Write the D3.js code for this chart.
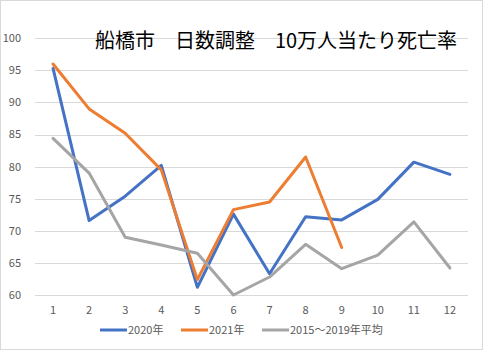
<!DOCTYPE html>
<html><head><meta charset="utf-8">
<script src="https://cdn.jsdelivr.net/npm/d3@7"></script>
<style>
html,body{margin:0;padding:0;background:#fff;}
svg{display:block;}
</style></head>
<body>
<svg id="chart" width="483" height="350"></svg>
<script>
const months = [1,2,3,4,5,6,7,8,9,10,11,12];
const s2020 = [95.3,71.6,75.4,80.2,61.2,72.6,63.3,72.2,71.7,74.9,80.7,78.8];
const s2021 = [96.0,89.0,85.2,79.5,62.4,73.3,74.5,81.5,67.4];
const sAvg  = [84.4,79.0,69.0,67.8,66.5,60.0,62.8,67.9,64.1,66.2,71.4,64.2];
const yTicks = [60,65,70,75,80,85,90,95,100];
const seriesNames = ["2020年","2021年","2015～2019年平均"];
const seriesColors = ["#4472C4","#ED7D31","#A5A5A5"];
const title = "船橋市　日数調整　10万人当たり死亡率";

(function(){
const svg = d3.select("#chart");
const W = 483, H = 350;
const font = "'Noto Sans CJK JP','Noto Sans',sans-serif";

svg.append("rect").attr("x",0.5).attr("y",0.5).attr("width",W-1).attr("height",H-1)
  .attr("fill","#fff").attr("stroke","#d9d9d9");

const pl = 35, pr = 468, pt = 38.3, pb = 295;
const x = d3.scaleBand().domain(months).range([pl,pr]);
const y = d3.scaleLinear().domain([60,100]).range([pb,pt]);

svg.append("g").selectAll("line").data(yTicks).join("line")
  .attr("x1",pl).attr("x2",pr)
  .attr("y1",d=>Math.round(y(d))+0.5).attr("y2",d=>Math.round(y(d))+0.5)
  .attr("stroke","#d9d9d9").attr("stroke-width",1);

svg.append("g").selectAll("text").data(yTicks).join("text")
  .attr("x",21).attr("y",d=>y(d)).attr("dy","0.35em")
  .attr("text-anchor","end").attr("font-family",font).attr("font-size",11)
  .attr("fill","#595959").text(d=>d);

svg.append("g").selectAll("text").data(months).join("text")
  .attr("x",d=>x(d)+x.bandwidth()/2).attr("y",310).attr("dy","0.35em")
  .attr("text-anchor","middle").attr("font-family",font).attr("font-size",11)
  .attr("fill","#595959").text(d=>d);

const line = d3.line().x((d,i)=>x(months[i])+x.bandwidth()/2).y(d=>y(d));
const lg0 = svg.append("g");
[s2020,s2021,sAvg].forEach((s,i)=>{
  lg0.append("path").datum(s).attr("d",line)
    .attr("fill","none").attr("stroke",seriesColors[i]).attr("stroke-width",3)
    .attr("stroke-linejoin","round").attr("stroke-linecap","round");
});

svg.append("text").attr("x",276).attr("y",48).attr("text-anchor","middle")
  .attr("font-family",font).attr("font-size",20).attr("fill","#000").text(title);

const legX = [100,181,262];
const lg = svg.append("g");
seriesNames.forEach((n,i)=>{
  lg.append("line").attr("x1",legX[i]).attr("x2",legX[i]+27).attr("y1",330).attr("y2",330)
    .attr("stroke",seriesColors[i]).attr("stroke-width",3);
  lg.append("text").attr("x",legX[i]+28).attr("y",330).attr("dy","0.35em")
    .attr("font-family",font).attr("font-size",11).attr("fill","#595959").text(n);
});
})();
</script>
</body></html>
